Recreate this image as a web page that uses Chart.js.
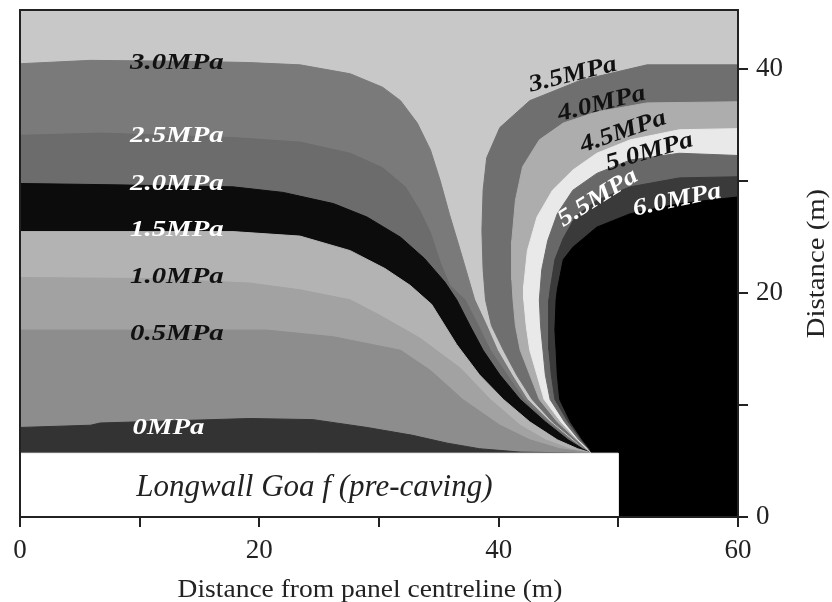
<!DOCTYPE html>
<html>
<head>
<meta charset="utf-8">
<title>Vertical stress contours above longwall goaf</title>
<script src="https://cdn.jsdelivr.net/npm/chart.js@4.4.0/dist/chart.umd.min.js"></script>
<style>
  html, body { margin: 0; padding: 0; background: #fff; }
</style>
</head>
<body>
<canvas id="stressChart" width="832" height="602"></canvas>
<script>
// contour lines, [distance from centreline (m), distance (m)]
// left family: goaf side, every line ends at the goaf edge
const curve30 = [[0,40.5],[5.9,40.8],[15.0,40.7],[19.2,40.6],[23.4,40.4],[27.6,39.6],[30.3,38.4],[31.8,37.2],[33.2,35.2],[34.3,32.8],[35.1,30.1],[35.9,27.0],[36.8,23.8],[37.4,21.6],[38.0,19.4],[39.0,17.1],[39.9,14.9],[41.1,12.7],[42.4,10.5],[44.3,8.5],[46.1,6.9],[47.1,6.1],[47.8,5.7]];
const curve25 = [[0,34.1],[6.7,34.3],[17.8,33.9],[23.4,33.5],[27.6,32.5],[30.3,31.2],[32.2,29.5],[33.4,27.4],[34.3,25.4],[35.1,22.8],[35.9,20.7],[37.2,19.4],[38.3,17.1],[39.3,14.9],[40.7,12.7],[42.1,10.5],[44.1,8.5],[46.0,6.9],[47.0,6.1],[47.8,5.7]];
const curve20 = [[0,29.8],[6.7,29.7],[17.8,29.5],[22.0,29.0],[26.2,28.0],[29.0,26.8],[31.8,25.0],[33.8,23.1],[35.5,21.0],[36.5,19.4],[37.6,17.1],[38.7,14.9],[40.1,12.7],[41.8,10.5],[43.9,8.5],[45.8,6.9],[47.0,6.1],[47.8,5.7]];
const curve15 = [[0,25.5],[10.9,25.5],[17.8,25.5],[23.4,25.1],[27.6,23.8],[30.5,22.2],[32.6,20.7],[34.4,19.0],[36.5,15.4],[38.4,12.7],[40.4,10.5],[42.6,8.5],[44.9,6.9],[46.6,6.1],[47.8,5.7]];
const curve10 = [[0,21.4],[10.9,21.3],[19.2,20.9],[23.4,20.3],[27.6,19.4],[30.1,18.0],[33.4,16.0],[36.8,13.3],[39.3,10.5],[41.8,8.2],[43.9,6.9],[45.9,6.1],[47.8,5.7]];
const curve05 = [[0,16.7],[20.6,16.7],[26.2,16.1],[31.8,14.9],[34.3,13.1],[37.0,10.5],[40.1,8.2],[42.6,6.9],[45.1,6.1],[47.8,5.7]];
const curve00 = [[0,8.0],[5.9,8.2],[6.7,8.4],[19.2,8.8],[24.5,8.7],[29.0,8.0],[32.8,7.3],[35.7,6.6],[38.4,6.1],[41.8,5.8],[47.8,5.7]];
// right family: rib side, from the right edge round to the goaf edge
const curve35 = [[60,40.4],[52.4,40.4],[46.8,39.0],[42.6,37.2],[40.1,34.8],[39.0,32.1],[38.7,29.2],[38.6,25.6],[38.7,22.1],[38.9,19.4],[39.4,17.1],[40.4,14.9],[41.5,12.7],[42.8,10.5],[44.5,8.5],[46.3,6.9],[47.2,6.1],[47.8,5.7]];
const curve40 = [[60,37.1],[52.4,37.0],[48.2,36.2],[45.4,35.2],[43.4,33.7],[42.0,31.3],[41.4,28.3],[41.1,24.7],[41.1,21.2],[41.2,19.4],[41.4,17.1],[41.8,14.9],[42.6,12.7],[43.4,10.5],[44.9,8.5],[46.5,6.9],[47.3,6.1],[47.8,5.7]];
const curve45 = [[60,34.7],[55.1,34.6],[51.0,33.7],[48.2,32.5],[46.2,31.0],[44.5,29.2],[43.2,26.8],[42.4,23.8],[42.1,20.7],[42.1,19.4],[42.3,17.1],[42.6,14.9],[43.2,12.7],[43.8,10.5],[45.2,8.5],[46.6,6.9],[47.4,6.1],[47.8,5.7]];
const curve50 = [[60,32.3],[55.1,32.5],[51.0,31.9],[48.2,30.7],[46.2,29.2],[44.9,27.1],[44.1,24.7],[43.6,22.1],[43.4,19.4],[43.5,17.1],[43.7,14.9],[43.9,12.7],[44.3,10.5],[45.5,8.5],[46.7,6.9],[47.5,6.1],[47.8,5.7]];
const curve55 = [[60,30.4],[55.1,30.3],[51.0,29.5],[48.2,28.3],[46.4,26.8],[45.4,24.9],[44.7,23.0],[44.3,20.3],[44.2,19.4],[44.2,17.1],[44.2,14.9],[44.4,12.7],[44.7,10.5],[45.8,8.5],[46.9,6.9],[47.5,6.1],[47.8,5.7]];
const curve60 = [[60,28.6],[55.1,28.0],[51.0,27.1],[48.2,25.9],[46.2,24.1],[45.4,23.0],[44.9,20.3],[44.8,19.4],[44.7,16.7],[44.8,14.9],[44.9,12.7],[45.1,10.5],[46.0,8.5],[47.0,6.9],[47.6,6.1],[47.8,5.7]];

const goafEdge = 47.8;            // where all contours meet
const goafBox = [0, 50, 0, 5.7];  // xmin, xmax, ymin, ymax
const goafText = "Longwall Goa f (pre-caving)";

const leftLabels = ["3.0MPa", "2.5MPa", "2.0MPa", "1.5MPa", "1.0MPa", "0.5MPa", "0MPa"];
const leftLabelX = [9.2, 9.2, 9.2, 9.2, 9.2, 9.2, 9.4];
const leftLabelY = [40.6, 34.1, 29.8, 25.7, 21.5, 16.4, 8.0];
const rightLabels = ["3.5MPa", "4.0MPa", "4.5MPa", "5.0MPa", "5.5MPa", "6.0MPa"];
const rightLabelX = [46.2, 48.6, 50.4, 52.6, 48.3, 54.9];
const rightLabelY = [39.5, 36.9, 34.4, 32.6, 28.5, 28.3];
const rightLabelAngle = [-14, -14, -19, -16, -32, -12];

const xTicks = [0, 20, 40, 60];
const yTicks = [0, 20, 40];
const xTitle = "Distance from panel centreline (m)";
const yTitle = "Distance (m)";

// ================= STYLES =================
const bgGray = "#c8c8c8";
const leftFamily = [
    { curve: curve30, color: "#7a7a7a" },
    { curve: curve25, color: "#6c6c6c" },
    { curve: curve20, color: "#0c0c0c" },
    { curve: curve15, color: "#b3b3b3" },
    { curve: curve10, color: "#a2a2a2" },
    { curve: curve05, color: "#8d8d8d" },
    { curve: curve00, color: "#333333" }
];
const rightFamily = [
    { curve: curve35, color: "#6f6f6f" },
    { curve: curve40, color: "#adadad" },
    { curve: curve45, color: "#e9e9e9" },
    { curve: curve50, color: "#686868" },
    { curve: curve55, color: "#3a3a3a" },
    { curve: curve60, color: "#000000" }
];
const leftLabelColor = ["#111", "#fff", "#fff", "#fff", "#111", "#111", "#fff"];
const rightLabelColor = ["#111", "#111", "#111", "#111", "#fff", "#fff"];
const serif = "'Liberation Serif', 'Times New Roman', serif";

function toPoints(arr) {
    return arr.map(p => ({ x: p[0], y: p[1] }));
}

function band(points, color, order) {
    return {
        data: toPoints(points),
        showLine: true,
        fill: "shape",
        backgroundColor: color,
        borderColor: color,
        borderWidth: 1,
        pointRadius: 0,
        tension: 0,
        order: order
    };
}

const datasets = [];
let order = 100;
leftFamily.forEach(b => {
    datasets.push(band(b.curve.concat([[goafEdge, 0], [0, 0]]), b.color, order--));
});
rightFamily.forEach(b => {
    datasets.push(band(b.curve.concat([[goafEdge, 0], [60, 0]]), b.color, order--));
});
datasets.push(band([[goafBox[0], goafBox[2]], [goafBox[1], goafBox[2]], [goafBox[1], goafBox[3]], [goafBox[0], goafBox[3]]], "#ffffff", 0));

// ================= PLUGINS =================
const background = {
    id: "background",
    beforeDatasetsDraw(chart) {
        const a = chart.chartArea, ctx = chart.ctx;
        ctx.save();
        ctx.fillStyle = bgGray;
        ctx.fillRect(a.left, a.top, a.right - a.left, a.bottom - a.top);
        ctx.restore();
    }
};

// the printed text is wide, so stretch the font sideways a little
function wideText(ctx, text, x, y, angle, stretch) {
    ctx.save();
    ctx.translate(x, y);
    ctx.rotate(angle * Math.PI / 180);
    ctx.scale(stretch, 1);
    ctx.fillText(text, 0, 0);
    ctx.restore();
}

const annotations = {
    id: "annotations",
    afterDatasetsDraw(chart) {
        const ctx = chart.ctx, xs = chart.scales.x, ys = chart.scales.y, a = chart.chartArea;
        ctx.save();

        ctx.font = "italic bold 24px " + serif;
        ctx.textBaseline = "middle";
        ctx.textAlign = "left";
        leftLabels.forEach((t, i) => {
            ctx.fillStyle = leftLabelColor[i];
            wideText(ctx, t, xs.getPixelForValue(leftLabelX[i]), ys.getPixelForValue(leftLabelY[i]), 0, 1.2);
        });

        ctx.textAlign = "center";
        rightLabels.forEach((t, i) => {
            ctx.fillStyle = rightLabelColor[i];
            wideText(ctx, t, xs.getPixelForValue(rightLabelX[i]), ys.getPixelForValue(rightLabelY[i]), rightLabelAngle[i], 1.15);
        });

        ctx.font = "italic 31px " + serif;
        ctx.fillStyle = "#222";
        ctx.fillText(goafText, xs.getPixelForValue(24.6), ys.getPixelForValue(2.6));

        // frame
        ctx.strokeStyle = "#222";
        ctx.lineWidth = 2;
        ctx.strokeRect(a.left, a.top, a.right - a.left, a.bottom - a.top);

        // axis titles
        ctx.font = "25px " + serif;
        ctx.fillStyle = "#222";
        wideText(ctx, xTitle, 370, 590, 0, 1.1);
        wideText(ctx, yTitle, 817, (a.top + a.bottom) / 2, -90, 1.15);
        ctx.restore();
    }
};

// ================= CHART =================
new Chart(document.getElementById("stressChart"), {
    type: "scatter",
    data: { datasets: datasets },
    options: {
        responsive: false,
        animation: false,
        devicePixelRatio: 1,
        events: [],
        layout: { padding: { top: 10, left: 20, right: 0, bottom: 0 } },
        plugins: { legend: { display: false }, tooltip: { enabled: false } },
        scales: {
            x: {
                type: "linear",
                position: "bottom",
                min: 0,
                max: 60,
                ticks: {
                    stepSize: 10,
                    maxRotation: 0,
                    padding: 8,
                    color: "#222",
                    font: { family: serif, size: 27 },
                    callback: v => xTicks.includes(v) ? String(v) : ""
                },
                grid: { drawOnChartArea: false, tickLength: 10, color: "#222", lineWidth: 2 },
                border: { color: "#222", width: 2, z: 1 },
                afterFit: s => { s.height = 85; s.paddingLeft = 0; s.paddingRight = 0; }
            },
            y: {
                type: "linear",
                position: "right",
                min: 0,
                max: 45.3,
                ticks: {
                    stepSize: 10,
                    includeBounds: false,
                    padding: 8,
                    color: "#222",
                    font: { family: serif, size: 27 },
                    callback: v => yTicks.includes(v) ? String(v) : ""
                },
                grid: { drawOnChartArea: false, tickLength: 10, color: "#222", lineWidth: 2 },
                border: { color: "#222", width: 2, z: 1 },
                afterFit: s => { s.width = 94; s.paddingTop = 0; s.paddingBottom = 0; }
            }
        }
    },
    plugins: [background, annotations]
});
</script>
</body>
</html>
